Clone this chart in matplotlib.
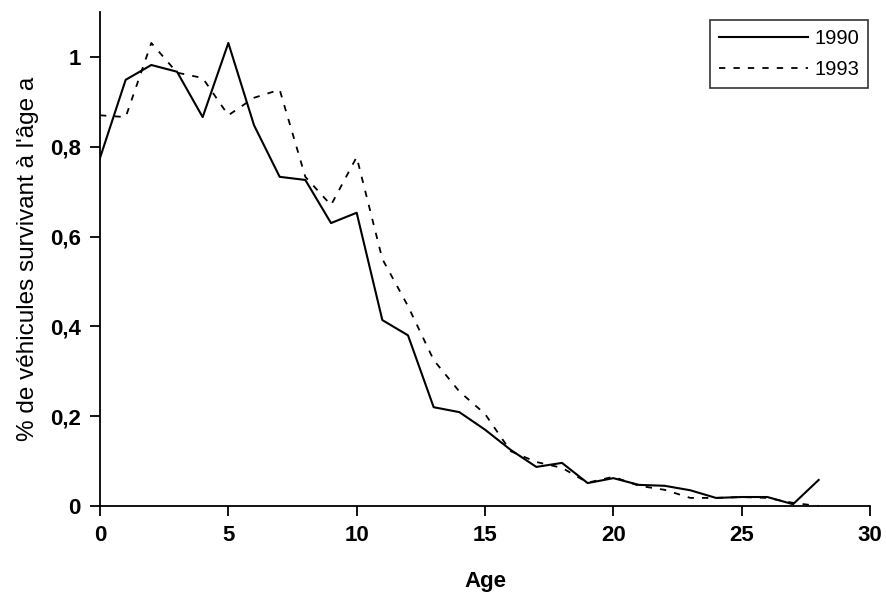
import matplotlib
matplotlib.use("Agg")
import matplotlib.pyplot as plt
from matplotlib.ticker import FuncFormatter

ages_1990 = list(range(0, 29))
surv_1990 = [0.775, 0.949, 0.982, 0.967, 0.866, 1.031, 0.848, 0.733, 0.726, 0.630,
             0.653, 0.414, 0.380, 0.220, 0.209, 0.170, 0.125, 0.087, 0.096, 0.051,
             0.062, 0.047, 0.045, 0.035, 0.018, 0.020, 0.020, 0.004, 0.058]

ages_1993 = list(range(0, 29))
surv_1993 = [0.870, 0.866, 1.031, 0.965, 0.953, 0.870, 0.909, 0.927, 0.733, 0.670,
             0.777, 0.550, 0.445, 0.325, 0.255, 0.205, 0.122, 0.098, 0.085, 0.052,
             0.065, 0.045, 0.036, 0.018, 0.018, 0.020, 0.018, 0.007, 0.000]

x_ticks = [0, 5, 10, 15, 20, 25, 30]
y_ticks = [0, 0.2, 0.4, 0.6, 0.8, 1.0]

plt.rcParams['font.family'] = ['Liberation Sans', 'DejaVu Sans']

fig = plt.figure(figsize=(8.86, 5.97), dpi=100)
ax = fig.add_axes([100/886, 1 - 506/597, 770/886, 494/597])

ax.plot(ages_1990, surv_1990, color='black', lw=1.5, label='1990')
ax.plot(ages_1993, surv_1993, color='black', lw=1.3, linestyle=(0, (3.5, 4.5)), label='1993')

ax.set_xlim(0, 30)
ax.set_ylim(0, 1.1)
ax.set_xticks(x_ticks)
ax.set_yticks(y_ticks)
ax.yaxis.set_major_formatter(FuncFormatter(lambda v, p: ('%g' % round(v, 1)).replace('.', ',')))
for lab in ax.get_xticklabels() + ax.get_yticklabels():
    lab.set_fontweight('bold')
    lab.set_fontsize(16)
ax.tick_params(direction='out', length=7, width=1.3, pad=7)

for s in ['top', 'right']:
    ax.spines[s].set_visible(False)
for s in ['left', 'bottom']:
    ax.spines[s].set_linewidth(1.3)

ax.set_xlabel('Age', fontsize=16, fontweight='bold', labelpad=18)
ax.set_ylabel("% de véhicules survivant à l'âge a", fontsize=17.5, labelpad=8)

leg = ax.legend(loc='upper right', bbox_to_anchor=(868/886, 1 - 20/597), bbox_transform=fig.transFigure,
                fontsize=14.5, frameon=True, fancybox=False, handlelength=4.4, handletextpad=0.3,
                borderpad=0.45, labelspacing=0.6, borderaxespad=0)
leg.get_frame().set_edgecolor('black')
leg.get_frame().set_linewidth(1.2)

fig.savefig('out.png', dpi=100)
